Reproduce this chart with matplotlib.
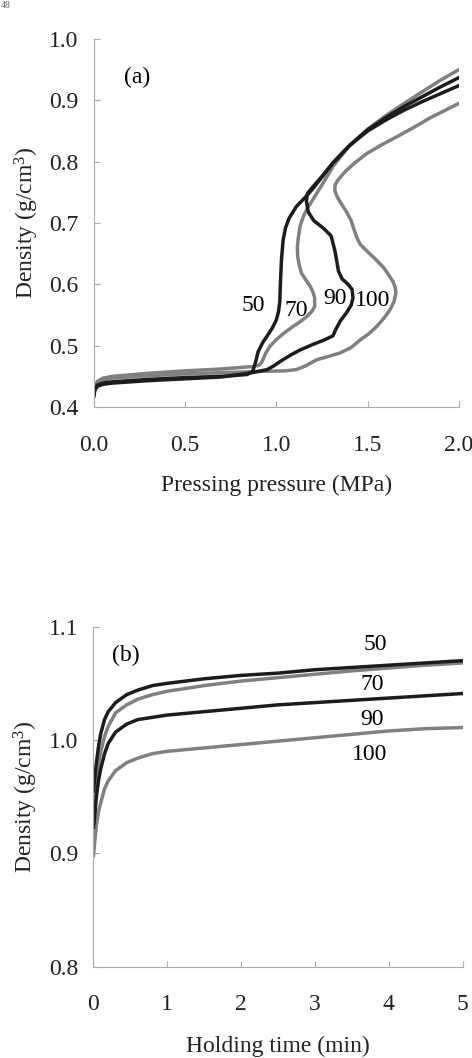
import matplotlib
matplotlib.use("Agg")
import matplotlib.pyplot as plt

plt.rcParams['font.family'] = ['Liberation Serif', 'DejaVu Serif']
plt.rcParams['mathtext.fontset'] = 'custom'
plt.rcParams['mathtext.rm'] = 'Liberation Serif'
plt.rcParams['mathtext.it'] = 'Liberation Serif:italic'

# (a) density vs pressing pressure, one curve per temperature label
p50 = [0.0, 0.005, 0.02, 0.05, 0.1, 0.3, 0.5, 0.7, 0.84, 0.87, 0.885, 0.9, 0.925, 0.95, 0.98,
       1.0, 1.012, 1.019, 1.022, 1.028, 1.037, 1.05, 1.07, 1.11, 1.165, 1.2, 1.25, 1.31, 1.4,
       1.5, 1.6, 1.7, 1.8, 1.9, 2.0]
d50 = [0.42, 0.43, 0.436, 0.439, 0.441, 0.445, 0.448, 0.45, 0.453, 0.458, 0.472, 0.49, 0.505,
       0.516, 0.53, 0.542, 0.556, 0.572, 0.6, 0.64, 0.672, 0.692, 0.708, 0.727, 0.744, 0.756,
       0.775, 0.798, 0.826, 0.852, 0.872, 0.89, 0.906, 0.922, 0.937]

p70 = [0.0, 0.005, 0.02, 0.05, 0.1, 0.3, 0.5, 0.7, 0.87, 0.905, 0.92, 0.94, 0.965, 1.0, 1.04,
       1.085, 1.13, 1.165, 1.195, 1.21, 1.21, 1.2, 1.185, 1.16, 1.138, 1.125, 1.117, 1.115,
       1.12, 1.13, 1.147, 1.17, 1.21, 1.26, 1.31, 1.4, 1.5, 1.6, 1.7, 1.8, 1.9, 2.0]
d70 = [0.422, 0.433, 0.442, 0.447, 0.45, 0.455, 0.459, 0.462, 0.466, 0.468, 0.473, 0.487, 0.499,
       0.51, 0.52, 0.53, 0.539, 0.547, 0.556, 0.564, 0.578, 0.588, 0.597, 0.608, 0.618, 0.632,
       0.645, 0.66, 0.675, 0.695, 0.71, 0.724, 0.743, 0.767, 0.792, 0.826, 0.853, 0.875, 0.895,
       0.914, 0.933, 0.95]

p90 = [0.0, 0.005, 0.02, 0.05, 0.1, 0.3, 0.5, 0.7, 0.85, 0.95, 0.98, 1.03, 1.08, 1.13, 1.2,
       1.26, 1.31, 1.325, 1.35, 1.385, 1.41, 1.42, 1.415, 1.39, 1.36, 1.34, 1.33, 1.32, 1.30,
       1.26, 1.205, 1.175, 1.165, 1.17, 1.2, 1.25, 1.31, 1.4, 1.5, 1.6, 1.7, 1.8, 1.9, 2.0]
d90 = [0.418, 0.428, 0.434, 0.437, 0.439, 0.443, 0.446, 0.449, 0.455, 0.461, 0.466, 0.476,
       0.485, 0.493, 0.502, 0.509, 0.516, 0.526, 0.540, 0.554, 0.566, 0.578, 0.592, 0.601,
       0.609, 0.622, 0.64, 0.656, 0.679, 0.691, 0.704, 0.718, 0.735, 0.748, 0.759, 0.776,
       0.798, 0.826, 0.85, 0.868, 0.884, 0.898, 0.911, 0.924]

p100 = [0.0, 0.005, 0.02, 0.05, 0.1, 0.3, 0.5, 0.7, 0.9, 1.05, 1.11, 1.16, 1.22, 1.28, 1.348,
        1.41, 1.458, 1.505, 1.549, 1.59, 1.622, 1.645, 1.655, 1.652, 1.64, 1.615, 1.586, 1.54,
        1.494, 1.46, 1.44, 1.425, 1.41, 1.385, 1.357, 1.335, 1.32, 1.322, 1.335, 1.36, 1.385,
        1.43, 1.494, 1.58, 1.675, 1.76, 1.84, 1.92, 2.0]
d100 = [0.42, 0.432, 0.44, 0.444, 0.447, 0.451, 0.454, 0.456, 0.458, 0.459, 0.461, 0.467,
        0.477, 0.482, 0.488, 0.497, 0.509, 0.519, 0.531, 0.545, 0.558, 0.572, 0.585, 0.595,
        0.604, 0.616, 0.628, 0.642, 0.655, 0.665, 0.677, 0.69, 0.704, 0.718, 0.731, 0.742,
        0.753, 0.762, 0.769, 0.778, 0.786, 0.798, 0.813, 0.828, 0.843, 0.857, 0.871, 0.883,
        0.895]

# (b) density vs holding time
t = [0, 0.02, 0.04, 0.07, 0.1, 0.15, 0.2, 0.3, 0.45, 0.6, 0.8, 1.0, 1.5, 2.0, 2.5, 3.0, 3.5,
     4.0, 4.5, 5.0]
h50 = [0.955, 0.968, 0.98, 0.995, 1.006, 1.018, 1.025, 1.033, 1.040, 1.044, 1.048, 1.050,
       1.054, 1.057, 1.059, 1.062, 1.064, 1.066, 1.068, 1.070]
h70 = [0.935, 0.95, 0.965, 0.98, 0.99, 1.003, 1.012, 1.024, 1.031, 1.036, 1.040, 1.043, 1.048,
       1.052, 1.055, 1.058, 1.061, 1.0635, 1.066, 1.068]
h90 = [0.923, 0.935, 0.95, 0.965, 0.975, 0.988, 0.997, 1.007, 1.014, 1.018, 1.020, 1.022,
       1.025, 1.028, 1.031, 1.033, 1.035, 1.037, 1.039, 1.041]
h100 = [0.898, 0.912, 0.925, 0.937, 0.945, 0.957, 0.964, 0.973, 0.980, 0.984, 0.988, 0.990,
        0.993, 0.996, 0.999, 1.002, 1.005, 1.008, 1.010, 1.011]

labels = ['50', '70', '90', '100']
xticks_a = [0.0, 0.5, 1.0, 1.5, 2.0]
yticks_a = [0.4, 0.5, 0.6, 0.7, 0.8, 0.9, 1.0]
xticks_b = [0, 1, 2, 3, 4, 5]
yticks_b = [0.8, 0.9, 1.0, 1.1]

black = '#1c1c1c'
gray = '#808080'
fs = 17
lw = 2.5


def style(ax):
    for s in ['top', 'right']:
        ax.spines[s].set_visible(False)
    for s in ['left', 'bottom']:
        ax.spines[s].set_color('#aaaaaa')
        ax.spines[s].set_linewidth(0.8)
    ax.tick_params(direction='in', length=4, width=0.8, color='#aaaaaa', labelsize=fs,
                   labelcolor='#222222')
    ax.tick_params(axis='x', pad=20)
    ax.tick_params(axis='y', pad=11)


fig = plt.figure(figsize=(4.72, 10.58), dpi=100)

# Panel (a)
ax1 = fig.add_axes([0.199, 0.6153, 0.773, 0.3478])
ax1.plot(p100, d100, color=gray, lw=lw)
ax1.plot(p70, d70, color=gray, lw=lw)
ax1.plot(p90, d90, color=black, lw=lw)
ax1.plot(p50, d50, color=black, lw=lw)
ax1.set_xlim(0, 2.0)
ax1.set_ylim(0.4, 1.0)
ax1.set_xticks(xticks_a)
ax1.set_xticklabels(['%.1f' % v for v in xticks_a])
ax1.set_yticks(yticks_a)
ax1.set_yticklabels(['%.1f' % v for v in yticks_a])
style(ax1)
ax1.set_xlabel('Pressing pressure (MPa)', fontsize=fs, labelpad=14, color='#222222')
ax1.set_ylabel('Density (g/cm$^{3}$)', fontsize=fs, labelpad=6, color='#222222')
ax1.text(0.235, 0.938, '(a)', fontsize=fs, ha='center', va='center')
for lab, x, y in zip(labels, [0.871, 1.107, 1.32, 1.528], [0.566, 0.558, 0.577, 0.574]):
    ax1.text(x, y, lab, fontsize=fs, ha='center', va='center')

# Panel (b)
ax2 = fig.add_axes([0.198, 0.0863, 0.782, 0.3214])
ax2.plot(t, h100, color=gray, lw=lw)
ax2.plot(t, h70, color=gray, lw=lw)
ax2.plot(t, h90, color=black, lw=lw)
ax2.plot(t, h50, color=black, lw=lw)
ax2.set_xlim(0, 5)
ax2.set_ylim(0.8, 1.1)
ax2.set_xticks(xticks_b)
ax2.set_yticks(yticks_b)
ax2.set_yticklabels(['%.1f' % v for v in yticks_b])
style(ax2)
ax2.set_xlabel('Holding time (min)', fontsize=fs, labelpad=15, color='#222222')
ax2.set_ylabel('Density (g/cm$^{3}$)', fontsize=fs, labelpad=6, color='#222222')
ax2.text(0.44, 1.075, '(b)', fontsize=fs, ha='center', va='center')
for lab, x, y in zip(labels, [3.82, 3.77, 3.77, 3.74], [1.084, 1.0486, 1.0177, 0.9876]):
    ax2.text(x, y, lab, fontsize=fs, ha='center', va='center')

# page number fragment at the top edge
fig.text(0.002, 0.999, '48', fontsize=7, color='#666666', ha='left', va='top')

fig.savefig('out.png', dpi=100)
